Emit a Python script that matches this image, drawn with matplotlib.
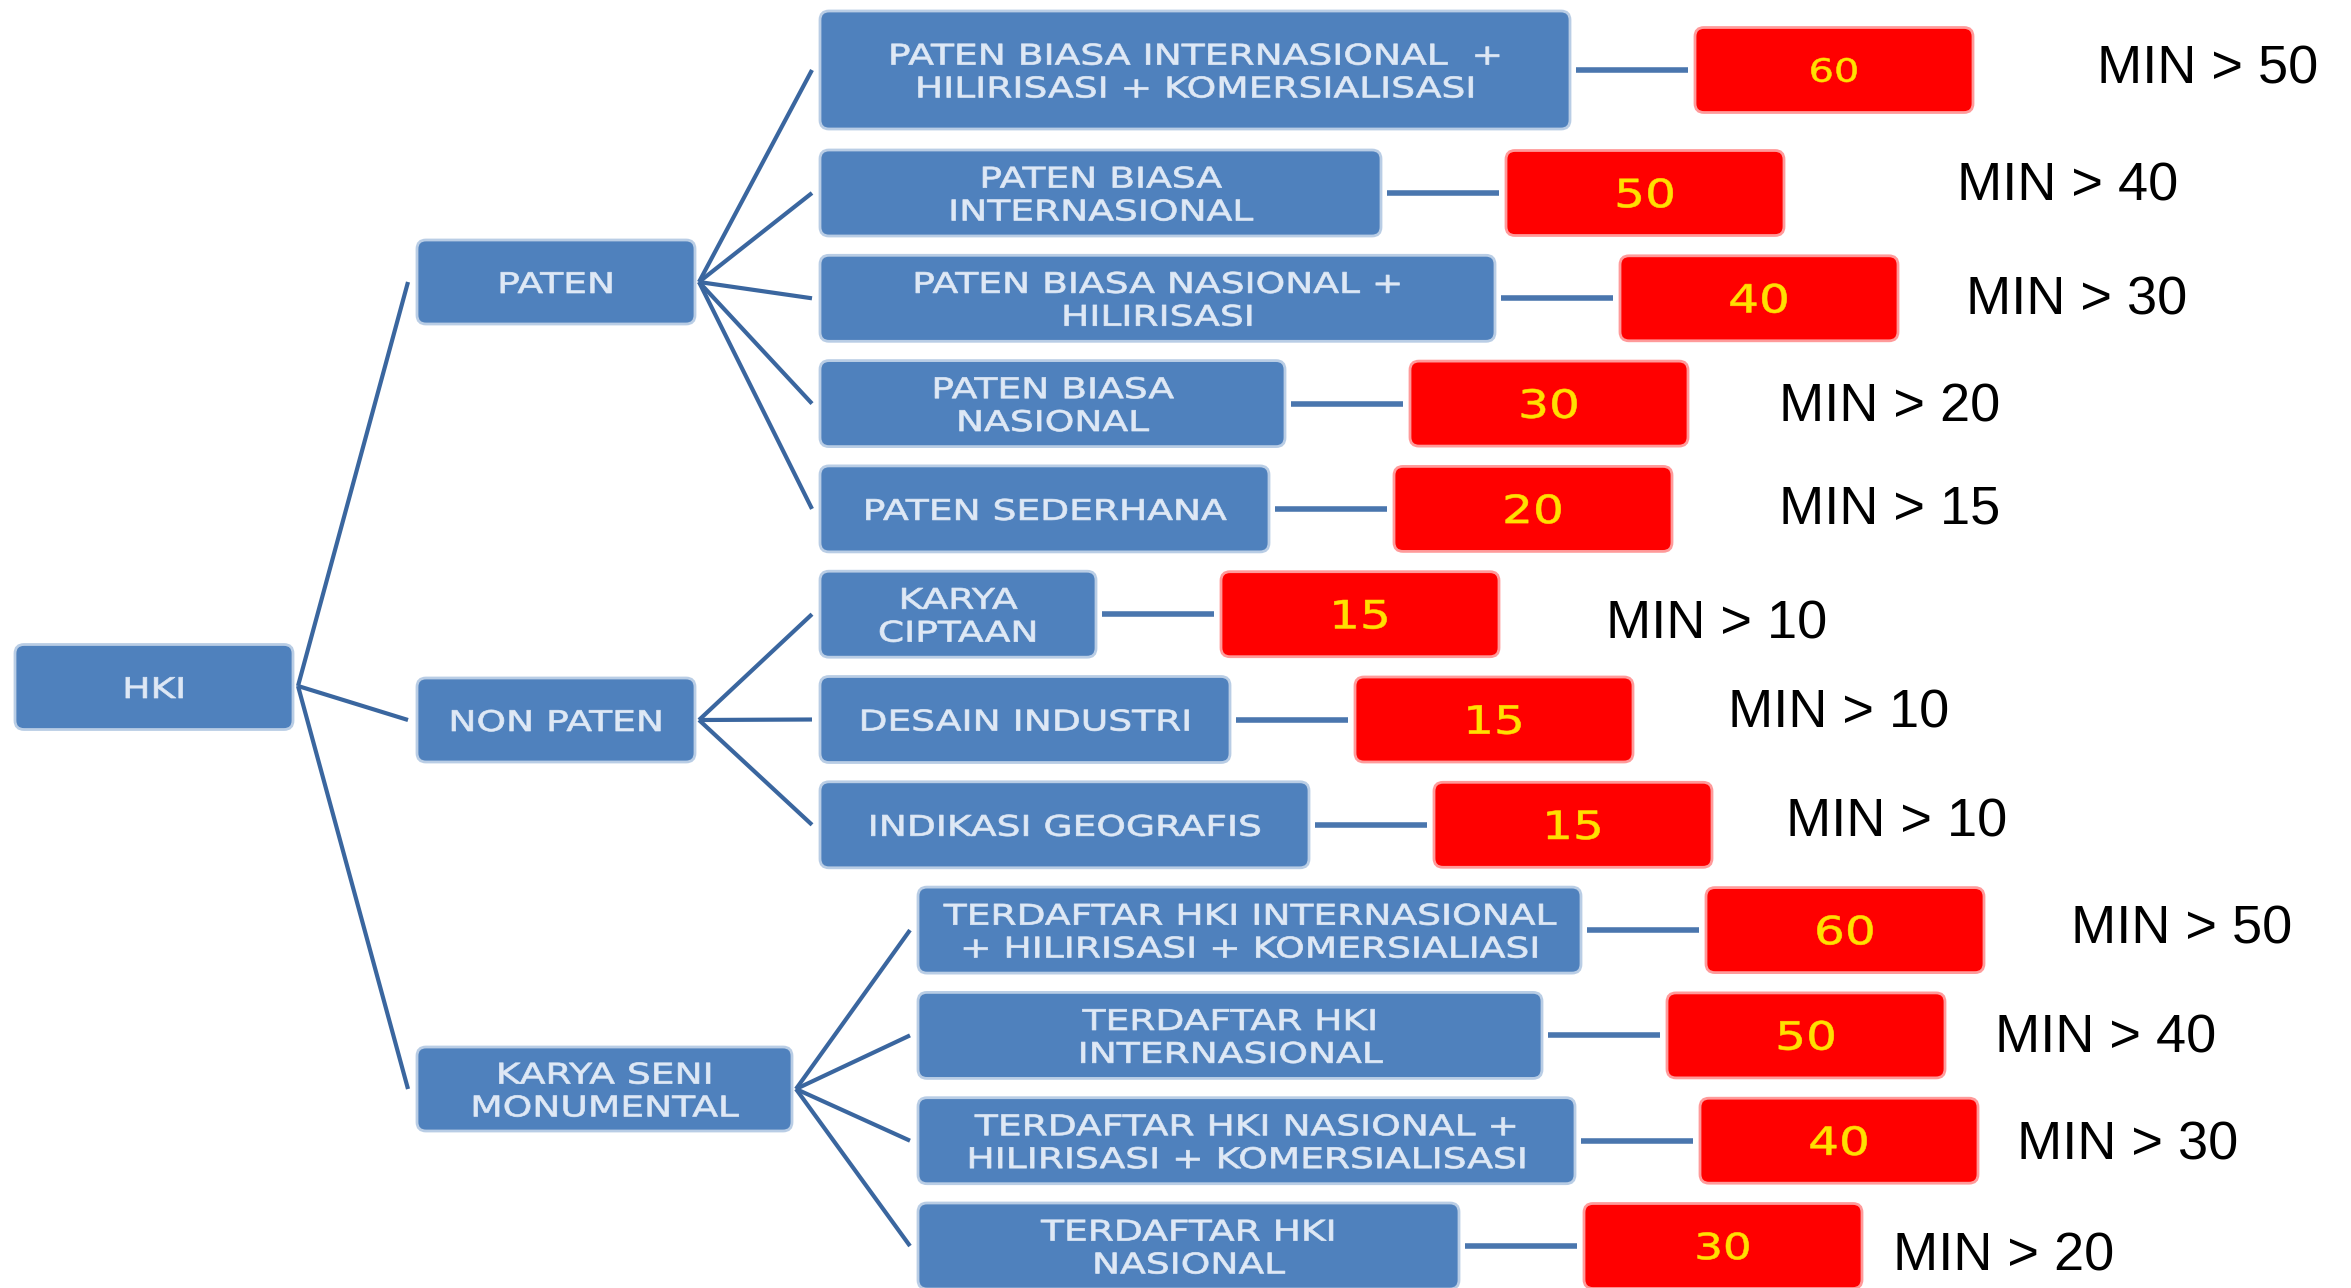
import matplotlib
matplotlib.use("Agg")
import matplotlib.pyplot as plt
from matplotlib.patches import FancyBboxPatch
from matplotlib.transforms import Affine2D
import matplotlib.patheffects as pe

# ---------------- data ----------------
root_label = "HKI"
group_labels = ["PATEN", "NON PATEN", "KARYA SENI\nMONUMENTAL"]
item_labels = [
    "PATEN BIASA INTERNASIONAL  +\nHILIRISASI + KOMERSIALISASI",
    "PATEN BIASA\nINTERNASIONAL",
    "PATEN BIASA NASIONAL +\nHILIRISASI",
    "PATEN BIASA\nNASIONAL",
    "PATEN SEDERHANA",
    "KARYA\nCIPTAAN",
    "DESAIN INDUSTRI",
    "INDIKASI GEOGRAFIS",
    "TERDAFTAR HKI INTERNASIONAL\n+ HILIRISASI + KOMERSIALIASI",
    "TERDAFTAR HKI\nINTERNASIONAL",
    "TERDAFTAR HKI NASIONAL +\nHILIRISASI + KOMERSIALISASI",
    "TERDAFTAR HKI\nNASIONAL",
]
item_group = [0, 0, 0, 0, 0, 1, 1, 1, 2, 2, 2, 2]
item_scores = [60, 50, 40, 30, 20, 15, 15, 15, 60, 50, 40, 30]
item_minimum = [50, 40, 30, 20, 15, 10, 10, 10, 50, 40, 30, 20]

# ---------------- layout (pixels of the 2351x1288 canvas) ----------------
W, H, DPI = 2351, 1288, 100
row_y = [70] + [193 + 105.3 * k for k in range(11)]
row_h = [118] + [86] * 11
item_x0 = [820] * 8 + [918] * 4
item_w = [750, 561, 675, 465, 449, 276, 410, 489, 663, 624, 657, 541]
score_gap, score_w = 125, 278
score_fs = [23] + [28] * 10 + [26]
min_x = [2097, 1957, 1966, 1779, 1779, 1606, 1728, 1786, 2071, 1995, 2017, 1893]
min_y = [64, 181, 295, 402, 504, 619, 708, 817, 924, 1033, 1140, 1251]
root_x0, root_w, root_y, root_h = 15, 278, 687, 85
group_x0, group_h = 417, 84
group_w = [278, 278, 375]
group_y = [282, 720, 1089]

BLUE = "#4F81BD"
BLUE_EDGE = "#B9CDE5"
RED = "#FF0000"
RED_EDGE = "#FF9A9A"
LINE = "#3A669F"
CONN = "#4A76AE"
BOX_TXT = "#DEE8F5"
NUM_TXT = "#FFE000"

fig = plt.figure(figsize=(W / DPI, H / DPI), dpi=DPI)
ax = fig.add_axes([0, 0, 1, 1])
ax.set_xlim(0, W)
ax.set_ylim(H, 0)
ax.axis("off")


class HStretch(pe.AbstractPathEffect):
    """Stretch rendered glyphs horizontally around the text anchor,
    with an optional thin outline in the text colour to add weight."""
    def __init__(self, sx, x, y, stroke=0.0):
        super().__init__()
        self.sx, self.x, self.y, self.stroke = sx, x, y, stroke

    def draw_path(self, renderer, gc, tpath, affine, rgbFace=None):
        cx = ax.transData.transform((self.x, self.y))[0]
        aff = affine + Affine2D().translate(-cx, 0).scale(self.sx, 1).translate(cx, 0)
        gc0 = renderer.new_gc()
        gc0.copy_properties(gc)
        if self.stroke > 0 and rgbFace is not None:
            gc0.set_linewidth(self.stroke)
            gc0.set_foreground(rgbFace)
            gc0.set_joinstyle("round")
        renderer.draw_path(gc0, tpath, aff, rgbFace)
        gc0.restore()


def box(x0, yc, w, h, fc, ec):
    ax.add_patch(FancyBboxPatch((x0, yc - h / 2), w, h,
                                boxstyle="round,pad=0,rounding_size=9",
                                fc=fc, ec=ec, lw=2.0, zorder=2))


def label(x, y, s, size, color, sx=1.0, family="DejaVu Sans", va="center",
          stroke=0.0):
    t = ax.text(x, y, s, ha="center", va=va, fontsize=size, color=color,
                family=family, multialignment="center", linespacing=1.22,
                zorder=3)
    t.set_path_effects([HStretch(sx, x, y, stroke)])
    return t


def line(x0, y0, x1, y1, color, lw):
    ax.plot([x0, x1], [y0, y1], color=color, lw=lw,
            solid_capstyle="butt", zorder=1)


BOX_FS, BOX_SX, BOX_STROKE = 20.5, 1.32, 0.5

# root
box(root_x0, root_y, root_w, root_h, BLUE, BLUE_EDGE)
label(root_x0 + root_w / 2, root_y + 3, root_label, BOX_FS, BOX_TXT, BOX_SX,
      stroke=BOX_STROKE)

# groups
root_out = (root_x0 + root_w + 5, root_y - 1)
group_out = []
for g, lab in enumerate(group_labels):
    box(group_x0, group_y[g], group_w[g], group_h, BLUE, BLUE_EDGE)
    label(group_x0 + group_w[g] / 2, group_y[g] + 3, lab, BOX_FS, BOX_TXT,
          BOX_SX, stroke=BOX_STROKE)
    line(root_out[0], root_out[1], group_x0 - 9, group_y[g], LINE, 3.0)
    group_out.append((group_x0 + group_w[g] + 4, group_y[g]))

# items
for i, lab in enumerate(item_labels):
    yc = row_y[i]
    x0, w = item_x0[i], item_w[i]
    box(x0, yc, w, row_h[i], BLUE, BLUE_EDGE)
    label(x0 + w / 2, yc + 3, lab, BOX_FS, BOX_TXT, BOX_SX, stroke=BOX_STROKE)
    gx, gy = group_out[item_group[i]]
    line(gx, gy, x0 - 8, yc, LINE, 3.0)

    rx0 = x0 + w + score_gap
    line(x0 + w + 6, yc, rx0 - 7, yc, CONN, 4.0)
    box(rx0, yc, score_w, 85, RED, RED_EDGE)
    em = score_fs[i] * DPI / 72
    label(rx0 + score_w / 2, yc + 0.729 * em / 2, str(item_scores[i]),
          score_fs[i], NUM_TXT, 1.25, va="baseline", stroke=0.4)

    em2 = 39 * DPI / 72
    ax.text(min_x[i], min_y[i] + 0.716 * em2 / 2, f"MIN > {item_minimum[i]}",
            ha="left", va="baseline", fontsize=39, color="black",
            family=["Liberation Sans", "DejaVu Sans"], zorder=3)

fig.savefig("out.png", dpi=DPI)
